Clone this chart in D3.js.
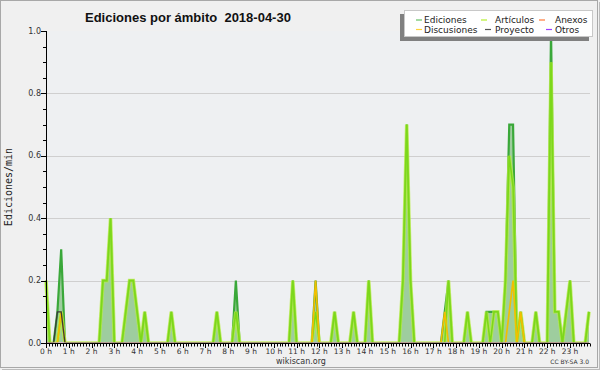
<!DOCTYPE html>
<html><head><meta charset="utf-8">
<script src="https://cdn.jsdelivr.net/npm/d3@7"></script>
<style>body{margin:0;background:#f0f0f0}svg{display:block}</style>
</head><body>
<svg id="c" width="600" height="370"></svg>
<script>
// 10-minute bins, edits per minute (144 bins: 0:00 .. 23:50)
const binCount = 144;
const seriesNames = ["Ediciones","Artículos","Anexos","Discusiones","Proyecto","Otros"];
const seriesColors = ["#3aa83a","#7cd81a","#ff7a30","#f2bf00","#3a3a3a","#9a40ff"];
const legendColors = ["#66c266","#b6f030","#ff7a3a","#ffd23a","#555555","#9a40ff"];
// sparse values: [bin, value]
const edicionesPts = [[0,0.2],[3,0.1],[4,0.3],[15,0.2],[16,0.2],[17,0.4],[21,0.1],[22,0.2],[23,0.2],[24,0.1],[26,0.1],[33,0.1],[45,0.1],[50,0.2],[65,0.2],[71,0.2],[76,0.1],[81,0.1],[85,0.2],[94,0.2],[95,0.7],[96,0.2],[105,0.1],[106,0.2],[111,0.1],[116,0.1],[117,0.1],[118,0.1],[119,0.1],[121,0.2],[122,0.7],[123,0.7],[125,0.1],[129,0.1],[133,1.0],[134,0.1],[135,0.1],[137,0.1],[138,0.2],[143,0.1]];
const articulosPts = [[0,0.2],[4,0.1],[15,0.2],[16,0.2],[17,0.4],[21,0.1],[22,0.2],[23,0.2],[24,0.1],[26,0.1],[33,0.1],[45,0.1],[50,0.1],[65,0.2],[71,0.1],[76,0.1],[81,0.1],[85,0.2],[94,0.2],[95,0.7],[96,0.2],[106,0.2],[111,0.1],[116,0.1],[118,0.1],[119,0.1],[121,0.2],[122,0.6],[123,0.5],[125,0.1],[129,0.1],[133,0.9],[134,0.1],[135,0.1],[137,0.1],[138,0.2],[143,0.1]];
const anexosPts = [];
const discusionesPts = [[4,0.1],[71,0.2],[105,0.1],[122,0.1],[123,0.2],[125,0.1]];
const proyectoPts = [[3,0.1],[4,0.1]];
const otrosPts = [];
const yTicks = [0,0.2,0.4,0.6,0.8,1.0];
const hourLabels = d3.range(24).map(h => h + " h");

function expand(pts){ const a = new Array(binCount).fill(0); pts.forEach(([b,v]) => a[b] = v); return a; }
const series = [edicionesPts,articulosPts,anexosPts,discusionesPts,proyectoPts,otrosPts].map(expand);

const svg = d3.select("#c");
const x = d3.scaleLinear().domain([0, (binCount-1)*10]).range([46, 589]);
const y = d3.scaleLinear().domain([0, 1]).range([343, 31]);

// background + border
svg.append("rect").attr("x",0.5).attr("y",0.5).attr("width",597).attr("height",367).attr("fill","#f0f0f0").attr("stroke","#a8a8a8");
svg.append("line").attr("x1",599.5).attr("x2",599.5).attr("y1",2).attr("y2",370).attr("stroke","#bbb");
svg.append("line").attr("x1",2).attr("x2",600).attr("y1",369.5).attr("y2",369.5).attr("stroke","#bbb");
svg.append("rect").attr("x",46).attr("y",31).attr("width",544).attr("height",312).attr("fill","#eef0f2");

// gridlines
svg.append("g").selectAll("line").data(yTicks.filter(v => v>0 && v<1)).join("line")
  .attr("x1",46).attr("x2",590).attr("y1",d=>Math.round(y(d))+0.5).attr("y2",d=>Math.round(y(d))+0.5)
  .attr("stroke","#cfcfcf");

// clip
svg.append("clipPath").attr("id","pc").append("rect").attr("x",40).attr("y",0).attr("width",560).attr("height",342.3);
const plot = svg.append("g").attr("clip-path","url(#pc)");

const line = d3.line().x((d,i)=>x(i*10)).y(d=>y(d));
const area = d3.area().x((d,i)=>x(i*10)).y0(y(0)).y1(d=>y(d));
plot.append("path").attr("d",area(series[0])).attr("fill","#9ecd9e");
plot.append("path").attr("d",line(series[0])).attr("fill","none").attr("stroke",seriesColors[0]).attr("stroke-width",2.2).attr("stroke-linejoin","miter");
// Artículos with glow
plot.append("path").attr("d",line(series[1])).attr("fill","none").attr("stroke","#b8ee40").attr("stroke-width",3.6).attr("stroke-opacity",0.75);
plot.append("path").attr("d",line(series[1])).attr("fill","none").attr("stroke",seriesColors[1]).attr("stroke-width",1.6);
[2,3,5].forEach(k=>{
  plot.append("path").attr("d",line(series[k])).attr("fill","none").attr("stroke",seriesColors[k]).attr("stroke-width",1.7);
});
plot.append("path").attr("d",line(series[4])).attr("fill","none").attr("stroke",seriesColors[4]).attr("stroke-width",1.3);

// y axis
const ya = svg.append("g");
ya.append("line").attr("x1",46.5).attr("x2",46.5).attr("y1",31).attr("y2",344).attr("stroke","#000");
ya.selectAll("line.t").data(d3.range(0,21)).join("line").attr("class","t")
  .attr("x1",d=> d%4===0 ? 41 : 43).attr("x2",46.5)
  .attr("y1",d=>Math.round(y(d*0.05))+0.5).attr("y2",d=>Math.round(y(d*0.05))+0.5).attr("stroke","#000");
ya.selectAll("text").data(yTicks).join("text")
  .attr("x",41).attr("y",d=>y(d)+2.5).attr("text-anchor","end")
  .attr("font-family","DejaVu Sans").attr("font-size",8).attr("fill","#333")
  .text(d=>d.toFixed(1));
svg.append("text").attr("transform","translate(12,187) rotate(-90)").attr("text-anchor","middle")
  .attr("font-family","DejaVu Sans Mono").attr("font-size",10).attr("fill","#222").text("Ediciones/min");

// x axis
const xa = svg.append("g");
xa.append("line").attr("x1",46).attr("x2",590).attr("y1",343.5).attr("y2",343.5).attr("stroke","#000");
const minor = d3.range(0, 24*8+1).map(i=>i*7.5).filter(m=>x(m)<=590.5);
xa.selectAll("line.t").data(minor).join("line").attr("class","t")
  .attr("x1",d=>Math.round(x(d))+0.5).attr("x2",d=>Math.round(x(d))+0.5)
  .attr("y1",343.5).attr("y2",d=> d%60===0 ? 348 : 346.5).attr("stroke","#000");
xa.selectAll("text").data(hourLabels).join("text")
  .attr("x",(d,i)=>x(i*60)).attr("y",354).attr("text-anchor","middle")
  .attr("font-family","DejaVu Sans").attr("font-size",7.5).attr("fill","#333").text(d=>d);

// title
svg.append("text").attr("x",85).attr("y",22).style("white-space","pre")
  .attr("font-family","Liberation Sans").attr("font-weight","bold").attr("font-size",13).attr("fill","#111")
  .text("Ediciones por ámbito  2018-04-30");

// footer
svg.append("text").attr("x",301).attr("y",364).attr("text-anchor","middle")
  .attr("font-family","DejaVu Sans").attr("font-size",8).attr("fill","#333").text("wikiscan.org");
svg.append("text").attr("x",589).attr("y",364).attr("text-anchor","end")
  .attr("font-family","DejaVu Sans").attr("font-size",6).attr("fill","#333").text("CC BY-SA 3.0");

// legend
const lg = svg.append("g");
lg.append("rect").attr("x",400).attr("y",14).attr("width",189).attr("height",27).attr("fill","#808080");
lg.append("rect").attr("x",404.5).attr("y",10.5).attr("width",188).attr("height",26).attr("fill","#fff").attr("stroke","#c8c8c8");
const legendLayout = [
  {k:0, lx:[416,422], tx:424, ty:23, ly:20},
  {k:1, lx:[481,487], tx:495, ty:23, ly:20},
  {k:2, lx:[539,545], tx:555, ty:23, ly:20},
  {k:3, lx:[416,422], tx:424, ty:33, ly:29.5},
  {k:4, lx:[485,491], tx:495, ty:33, ly:29.5},
  {k:5, lx:[546,552], tx:555, ty:33, ly:29.5}
];
legendLayout.forEach(o=>{
  lg.append("line").attr("x1",o.lx[0]).attr("x2",o.lx[1]).attr("y1",o.ly).attr("y2",o.ly).attr("stroke",legendColors[o.k]).attr("stroke-width",1.2);
  lg.append("text").attr("x",o.tx).attr("y",o.ty).attr("font-family","DejaVu Sans").attr("font-size",9).attr("fill","#222").text(seriesNames[o.k]);
});
</script>
</body></html>
